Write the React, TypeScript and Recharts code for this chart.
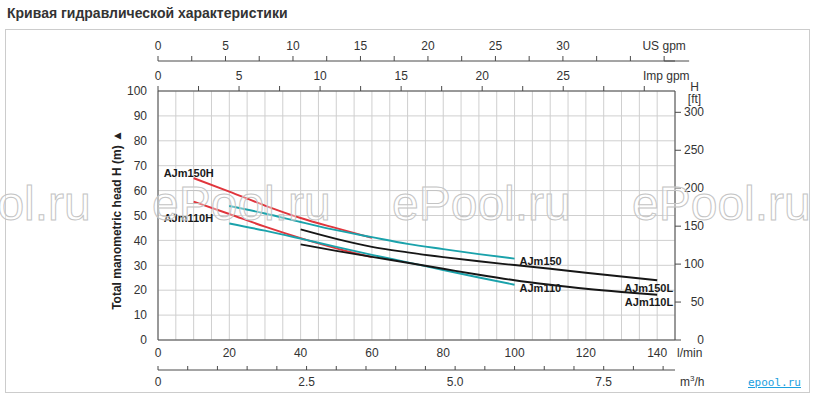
import { LineChart, Line, XAxis, YAxis, CartesianGrid, LabelList } from "recharts";

const FONT = '"Liberation Sans", Arial, Helvetica, sans-serif';
const AXIS = "#4a4a4a";
const GRID = "#cfcfcf";
const RED = "#e0353c";
const TEAL = "#1aa2ab";
const BLACK = "#161616";

// flow, l/min
const flowH = [10, 20, 30, 40, 50, 60];
const flowStd = [20, 30, 40, 50, 60, 70, 80, 90, 100];
const flowL = [40, 50, 60, 70, 80, 90, 100, 110, 120, 130, 140];

// head, m
const headAJm150H = [65, 59.6, 54.0, 49.0, 44.9, 41.0];
const headAJm110H = [55.6, 50.6, 45.5, 40.9, 36.8, 33.3];
const headAJm150 = [53.8, 50.8, 47.4, 44.1, 41.3, 38.6, 36.5, 34.5, 32.7];
const headAJm110 = [46.8, 43.9, 40.7, 37.4, 34.2, 31.2, 28.1, 25.1, 22.2];
const headAJm150L = [44.4, 40.6, 37.4, 35.2, 33.3, 31.6, 30.1, 28.6, 27.0, 25.5, 24.0];
const headAJm110L = [38.4, 35.8, 33.4, 31.0, 28.6, 26.2, 24.0, 22.2, 20.6, 19.3, 18.2];

// axis ticks
const lminTicks = [0, 5, 10, 15, 20, 25, 30, 35, 40, 45, 50, 55, 60, 65, 70, 75, 80, 85, 90, 95, 100, 105, 110, 115, 120, 125, 130, 135, 140, 145];
const lminLabels = [0, 20, 40, 60, 80, 100, 120, 140];
const headTicks = [0, 10, 20, 30, 40, 50, 60, 70, 80, 90, 100];
const ftTicks = [0, 50, 100, 150, 200, 250, 300];
const usTicks = [0, 2.5, 5, 7.5, 10, 12.5, 15, 17.5, 20, 22.5, 25, 27.5, 30, 32.5, 35, 37.5];
const usLabels = [0, 5, 10, 15, 20, 25, 30];
const impTicks = [0, 2.5, 5, 7.5, 10, 12.5, 15, 17.5, 20, 22.5, 25, 27.5, 30];
const impLabels = [0, 5, 10, 15, 20, 25];
const m3hTicks = [0, 0.5, 1, 1.5, 2, 2.5, 3, 3.5, 4, 4.5, 5, 5.5, 6, 6.5, 7, 7.5, 8, 8.5];
const m3hLabelValues = [0, 2.5, 5, 7.5];
const m3hLabelTexts = ["0", "2.5", "5.0", "7.5"];

// unit conversions
const LMIN_MAX = 145;
const LMIN_PER_USGPM = 3.78541;
const LMIN_PER_IMPGPM = 4.54609;
const LMIN_PER_M3H = 1000 / 60;
const FT_PER_M = 3.28084;

// flow range of the frame, feeds the secondary flow axes
const flowRange = [{ x: 0 }, { x: LMIN_MAX }];

const toPts = (xs: number[], ys: number[]) => xs.map((x, i) => ({ x, y: ys[i] }));

const series = [
  { name: "AJm150H", data: toPts(flowH, headAJm150H), color: RED, label: { at: 0, dx: -30, dy: -1, anchor: "start" } },
  { name: "AJm110H", data: toPts(flowH, headAJm110H), color: RED, label: { at: 0, dx: -30, dy: 20, anchor: "start" } },
  { name: "AJm150", data: toPts(flowStd, headAJm150), color: TEAL, label: { at: flowStd.length - 1, dx: 5, dy: 6, anchor: "start" } },
  { name: "AJm110", data: toPts(flowStd, headAJm110), color: TEAL, label: { at: flowStd.length - 1, dx: 5, dy: 7, anchor: "start" } },
  { name: "AJm150L", data: toPts(flowL, headAJm150L), color: BLACK, label: { at: flowL.length - 1, dx: 16, dy: 11.5, anchor: "end" } },
  { name: "AJm110L", data: toPts(flowL, headAJm110L), color: BLACK, label: { at: flowL.length - 1, dx: 16, dy: 11.5, anchor: "end" } },
];

const txt = { fontFamily: FONT, fontSize: 12, fill: "#333" };

function UsTick({ x, y, payload }: any) {
  const v = payload.value;
  const last = v === usTicks[usTicks.length - 1];
  const label = last ? "US gpm" : usLabels.includes(v) ? String(v) : "";
  return (
    <g>
      {last && <line x1={x} x2={x + 25} y1={y + 11.5} y2={y + 11.5} stroke={AXIS} />}
      <text x={x} y={y} textAnchor="middle" {...txt}>{label}</text>
    </g>
  );
}

function ImpTick({ x, y, payload }: any) {
  const v = payload.value;
  const last = v === impTicks[impTicks.length - 1];
  const label = last ? "Imp gpm" : impLabels.includes(v) ? String(v) : "";
  return (
    <text x={last ? x + 22 : x} y={y} textAnchor="middle" {...txt}>{label}</text>
  );
}

function FtTick({ x, y, payload }: any) {
  return (
    <text x={x + 21} y={y} dy={4} textAnchor="end" {...txt}>{payload.value}</text>
  );
}

function M3hTick({ x, y, payload }: any) {
  const i = m3hLabelValues.indexOf(payload.value);
  return (
    <g>
      <line x1={x} x2={x} y1={y} y2={y - 4} stroke={AXIS} />
      {i >= 0 && (
        <text x={x} y={y + 16} textAnchor="middle" {...txt}>{m3hLabelTexts[i]}</text>
      )}
    </g>
  );
}

function HeadLabel({ viewBox }: any) {
  const cx = viewBox.x - 1;
  const cy = viewBox.y + viewBox.height / 2 + 4.5;
  return (
    <text
      x={cx}
      y={cy}
      transform={`rotate(-90 ${cx} ${cy})`}
      textAnchor="middle"
      dominantBaseline="central"
      style={{ fontFamily: FONT, fontSize: 12, fontWeight: "bold", fill: "#222" }}
    >
      Total manometric head H (m) ▲
    </text>
  );
}

function FtLabel({ viewBox }: any) {
  const cx = viewBox.x + 19.5;
  return (
    <g>
      <text x={cx} y={viewBox.y - 0.5} textAnchor="middle" {...txt}>H</text>
      <text x={cx} y={viewBox.y + 12} textAnchor="middle" {...txt}>[ft]</text>
    </g>
  );
}

function LminUnit({ viewBox }: any) {
  return (
    <text x={viewBox.x + viewBox.width + 2} y={viewBox.y + 16.5} {...txt}>l/min</text>
  );
}

function M3hUnit({ viewBox }: any) {
  return (
    <text x={viewBox.x + viewBox.width + 5} y={viewBox.y + 16} {...txt}>
      m<tspan dy={-5} fontSize={8}>3</tspan><tspan dy={5}>/h</tspan>
    </text>
  );
}

const curveLabel = (text: string, cfg: any) => (p: any) =>
  p.index === cfg.at ? (
    <text
      x={p.x + cfg.dx}
      y={p.y + cfg.dy}
      textAnchor={cfg.anchor}
      style={{ fontFamily: FONT, fontSize: 11, fontWeight: "bold", fill: "#1a1a1a" }}
    >
      {text}
    </text>
  ) : null;

const watermarkX = [-88, 152, 392, 632];

export default function App() {
  return (
    <div style={{ position: "relative", width: 814, height: 397, background: "#fff", overflow: "hidden", fontFamily: FONT }}>
      <style>{"body{margin:0}"}</style>
      <div style={{ position: "absolute", left: 7, top: 5, fontSize: 14, fontWeight: "bold", color: "#333", whiteSpace: "nowrap" }}>
        Кривая гидравлической характеристики
      </div>
      <div style={{ position: "absolute", left: 5, top: 29, width: 805, height: 364, border: "1px solid #cccccc", boxSizing: "border-box" }} />

      <div style={{ position: "absolute", left: 0, top: 0 }}>
        <LineChart width={814} height={397} data={flowRange} margin={{ top: 30, right: 99, bottom: 0, left: 118 }}>
          <CartesianGrid xAxisId="lmin" yAxisId="m" stroke={GRID} strokeWidth={1} />
          <XAxis
            xAxisId="lmin"
            dataKey="x"
            type="number"
            domain={[0, LMIN_MAX]}
            ticks={lminTicks}
            interval={0}
            allowDataOverflow
            height={30}
            tickLine={false}
            tickSize={0}
            tickMargin={8}
            axisLine={{ stroke: AXIS }}
            tick={txt}
            tickFormatter={(v: number) => (lminLabels.includes(v) ? String(v) : "")}
            label={<LminUnit />}
          />
          <XAxis
            xAxisId="m3h"
            dataKey={(d: any) => d.x / LMIN_PER_M3H}
            type="number"
            domain={[0, LMIN_MAX / LMIN_PER_M3H]}
            ticks={m3hTicks}
            interval={0}
            allowDataOverflow
            height={27}
            tickLine={false}
            tickSize={0}
            tickMargin={0}
            axisLine={{ stroke: AXIS }}
            tick={<M3hTick />}
            label={<M3hUnit />}
          />
          <XAxis
            xAxisId="imp"
            dataKey={(d: any) => d.x / LMIN_PER_IMPGPM}
            orientation="top"
            type="number"
            domain={[0, LMIN_MAX / LMIN_PER_IMPGPM]}
            ticks={impTicks}
            interval={0}
            allowDataOverflow
            height={30}
            tickSize={5}
            tickMargin={6}
            tickLine={{ stroke: AXIS }}
            axisLine={{ stroke: AXIS }}
            tick={<ImpTick />}
          />
          <XAxis
            xAxisId="us"
            dataKey={(d: any) => d.x / LMIN_PER_USGPM}
            orientation="top"
            type="number"
            domain={[0, LMIN_MAX / LMIN_PER_USGPM]}
            ticks={usTicks}
            interval={0}
            allowDataOverflow
            height={31}
            tickSize={5}
            tickMargin={6.5}
            tickLine={{ stroke: AXIS }}
            axisLine={{ stroke: AXIS }}
            tick={<UsTick />}
          />
          <YAxis
            yAxisId="m"
            type="number"
            domain={[0, 100]}
            ticks={headTicks}
            interval={0}
            allowDataOverflow
            width={40}
            tickLine={false}
            tickSize={0}
            tickMargin={11}
            axisLine={{ stroke: AXIS }}
            tick={txt}
            label={<HeadLabel />}
          />
          <YAxis
            yAxisId="ft"
            orientation="right"
            type="number"
            domain={[0, 100 * FT_PER_M]}
            ticks={ftTicks}
            interval={0}
            allowDataOverflow
            width={40}
            tickSize={6}
            tickMargin={2}
            tickLine={{ stroke: AXIS }}
            axisLine={{ stroke: AXIS }}
            tick={<FtTick />}
            label={<FtLabel />}
          />
          {series.map((s) => (
            <Line
              key={s.name}
              xAxisId="lmin"
              yAxisId="m"
              data={s.data}
              dataKey="y"
              type="monotone"
              stroke={s.color}
              strokeWidth={1.9}
              dot={false}
              activeDot={false}
              isAnimationActive={false}
            >
              <LabelList dataKey="y" content={curveLabel(s.name, s.label)} />
            </Line>
          ))}
        </LineChart>
      </div>

      <svg width={814} height={397} style={{ position: "absolute", left: 0, top: 0, pointerEvents: "none" }}>
        {watermarkX.map((x, i) => (
          <text
            key={i}
            x={x}
            y={220}
            style={{ fontFamily: FONT, fontSize: 48, fill: "rgba(255,255,255,0.35)", stroke: "#c4c4c4", strokeWidth: 1 }}
          >
            ePool.ru
          </text>
        ))}
      </svg>

      <div style={{ position: "absolute", left: 748, top: 376, fontFamily: '"DejaVu Sans Mono", monospace', fontSize: 11, color: "#1ba0e0", textDecoration: "underline", lineHeight: "14px" }}>
        epool.ru
      </div>
    </div>
  );
}
